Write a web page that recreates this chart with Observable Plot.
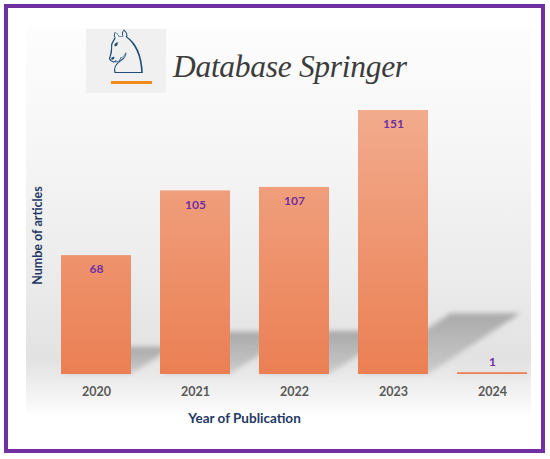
<!DOCTYPE html>
<html>
<head>
<meta charset="utf-8">
<script src="https://cdn.jsdelivr.net/npm/d3@7"></script>
<script src="https://cdn.jsdelivr.net/npm/@observablehq/plot@0.6"></script>
<style>
  html, body { margin: 0; padding: 0; background: #fff; }
  #wrap { position: relative; width: 550px; height: 459px; overflow: hidden; background: #fff; font-family: Lato, "Open Sans", sans-serif; }
  #bg { position: absolute; left: 26px; top: 28px; width: 505px; height: 386px;
        background: linear-gradient(to bottom, #fdfdfd 0%, #f6f6f6 30%, #ebebeb 65%, #e2e2e2 86%, #f3f3f3 95%, #fdfdfd 100%); }
  #chart { position: absolute; left: 0; top: 0; }
  #logo { position: absolute; left: 86px; top: 29px; width: 80px; height: 64px; background: #f0f0f0; }
  #knight { position: absolute; left: 0; top: -9px; width: 80px; text-align: center; font-family: "DejaVu Sans"; font-size: 60px; line-height: 64px; color: #1F4E79; font-weight: bold; }
  #bar { position: absolute; left: 25px; top: 52px; width: 41px; height: 3px; background: #F08A1C; }
  #title { position: absolute; left: 173px; top: 49px; font-family: "Liberation Serif", "DejaVu Serif", serif; font-style: italic; font-size: 31.5px; color: #3c3c3c; white-space: nowrap; letter-spacing: -0.3px; }
  #frame { position: absolute; left: 4px; top: 4px; width: 541px; height: 449px; border: 4px solid #7030A0; box-sizing: border-box; }
</style>
</head>
<body>
<div id="wrap">
  <div id="bg"></div>
  <div id="chart"></div>
  <div id="logo"><div id="knight">♘</div><div id="bar"></div></div>
  <div id="title">Database Springer</div>
  <div id="frame"></div>
</div>
<script>
const years = ["2020", "2021", "2022", "2023", "2024"];
const articles = [68, 105, 107, 151, 1];
const titleText = "Database Springer";
const xLabel = "Year of Publication";
const yLabel = "Numbe of articles";

const data = years.map((y, i) => ({year: y, value: articles[i]}));

const chart = Plot.plot({
  width: 550,
  height: 459,
  marginLeft: 61,
  marginRight: 23,
  marginTop: 110,
  marginBottom: 85,
  style: {background: "transparent", fontFamily: "Lato, 'Open Sans', sans-serif", overflow: "visible"},
  x: {domain: years, paddingInner: 0.293, paddingOuter: 0},
  y: {domain: [0, 151], axis: null},
  marks: [
    // perspective shadows derived from the bars
    Plot.barY(data, {
      x: "year", y: "value",
      render(index, scales, values, dimensions, context, next) {
        const g = next(index, scales, values, dimensions, context);
        const ns = "http://www.w3.org/2000/svg";
        const out = document.createElementNS(ns, "g");
        out.setAttribute("filter", "url(#shadowBlur)");
        g.querySelectorAll("rect").forEach(r => {
          const x = +r.getAttribute("x"), y = +r.getAttribute("y");
          const w = +r.getAttribute("width"), h = +r.getAttribute("height");
          const b = y + h, dx = 0.35 * h, dy = -0.23 * h;
          const p = document.createElementNS(ns, "polygon");
          p.setAttribute("points", [[x, b], [x + w, b], [x + w + dx, b + dy], [x + dx, b + dy]].map(d => d.join(",")).join(" "));
          p.setAttribute("fill", "url(#shadowGrad)");
          out.appendChild(p);
        });
        return out;
      }
    }),
    Plot.barY(data, {x: "year", y: "value", fill: "url(#barGrad)"}),
    Plot.text(data.filter(d => d.value > 10), {
      x: "year", y: "value", text: d => String(d.value), dy: 14,
      fill: "#7030A0", fontWeight: "bold", fontSize: 12
    }),
    Plot.text(data.filter(d => d.value <= 10), {
      x: "year", y: "value", text: d => String(d.value), dy: -11,
      fill: "#7030A0", fontWeight: "bold", fontSize: 12
    }),
    Plot.axisX({tickSize: 0, tickPadding: 13, label: null, fontWeight: "bold", fill: "#595959", fontSize: 12.5}),
    Plot.text([xLabel], {frameAnchor: "bottom", dy: 48, dx: 244 - (61 + (550 - 23 - 61) / 2), text: d => d,
      textAnchor: "middle", fill: "#1F3864", fontWeight: "bold", fontSize: 13.5}),
    Plot.text([yLabel], {frameAnchor: "left", dx: 37 - 61, dy: 235 - (110 + (374 - 110) / 2), rotate: -90, text: d => d,
      textAnchor: "middle", fill: "#1F3864", fontWeight: "bold", fontSize: 12.5})
  ]
});

const defs = d3.create("svg:defs");
const g1 = defs.append("linearGradient").attr("id", "barGrad").attr("gradientUnits", "userSpaceOnUse")
  .attr("x1", 0).attr("x2", 0).attr("y1", 110).attr("y2", 374);
g1.append("stop").attr("offset", "0%").attr("stop-color", "#F2AB8D");
g1.append("stop").attr("offset", "100%").attr("stop-color", "#EB7F53");
const g2 = defs.append("linearGradient").attr("id", "shadowGrad").attr("x1", 0).attr("x2", 0).attr("y1", 0).attr("y2", 1);
g2.append("stop").attr("offset", "0%").attr("stop-color", "#808080").attr("stop-opacity", 0.6);
g2.append("stop").attr("offset", "100%").attr("stop-color", "#909090").attr("stop-opacity", 0.3);
const f = defs.append("filter").attr("id", "shadowBlur").attr("x", "-20%").attr("y", "-20%").attr("width", "140%").attr("height", "140%");
f.append("feGaussianBlur").attr("stdDeviation", 2.5);
chart.insertBefore(defs.node(), chart.firstChild);

document.getElementById("chart").appendChild(chart);
document.getElementById("title").textContent = titleText;
</script>
</body>
</html>
